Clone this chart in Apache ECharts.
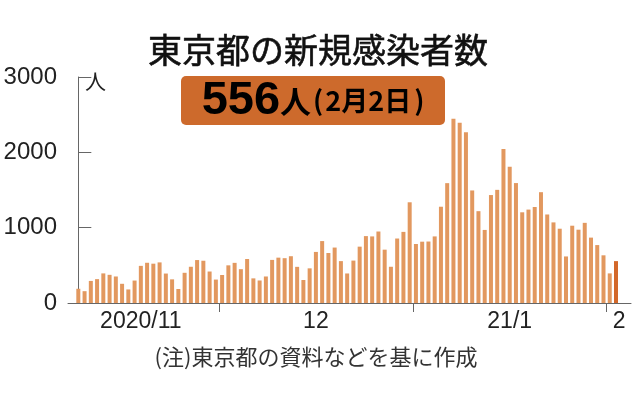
<!DOCTYPE html>
<html>
<head>
<meta charset="utf-8">
<script src="https://cdn.jsdelivr.net/npm/echarts@6/dist/echarts.min.js"></script>
<style>
html,body{margin:0;padding:0;background:#fff;}
#c{width:638px;height:396px;}
</style>
</head>
<body>
<div id="c"></div>
<script>
// Daily new cases in Tokyo, 2020/11/8 - 2021/2/2
var dates = [
 '11/8','11/9','11/10','11/11','11/12','11/13','11/14','11/15','11/16','11/17','11/18','11/19','11/20','11/21','11/22','11/23','11/24','11/25','11/26','11/27','11/28','11/29','11/30',
 '12/1','12/2','12/3','12/4','12/5','12/6','12/7','12/8','12/9','12/10','12/11','12/12','12/13','12/14','12/15','12/16','12/17','12/18','12/19','12/20','12/21','12/22','12/23','12/24','12/25','12/26','12/27','12/28','12/29','12/30','12/31',
 '1/1','1/2','1/3','1/4','1/5','1/6','1/7','1/8','1/9','1/10','1/11','1/12','1/13','1/14','1/15','1/16','1/17','1/18','1/19','1/20','1/21','1/22','1/23','1/24','1/25','1/26','1/27','1/28','1/29','1/30','1/31',
 '2/1','2/2'
];
var cases = [
 189,157,293,317,393,374,352,255,180,298,493,534,522,539,391,314,186,401,481,570,561,418,311,
 372,500,533,449,584,327,299,352,572,602,595,621,480,305,460,678,822,664,736,556,392,563,748,888,884,949,708,481,856,944,1337,
 783,814,816,884,1278,1591,2447,2392,2268,1494,1219,970,1433,1502,2044,1809,1592,1204,1240,1274,1471,1175,1070,986,618,1026,973,1064,868,769,633,
 393,556
];
var yTicks = [0, 1000, 2000, 3000];
var monthTicks = [22.5, 53.5, 84.5];          // boundaries between months (day index)
var monthLabelPos = [10, 38, 69, 86.5];        // centre of each visible month span
var monthLabels = ['2020/11', '12', '21/1', '2'];
var titleText = '東京都の新規感染者数';
var badgeNumber = '556';
var badgeDate = '2月2日';
var unitText = '人';
var noteText = '(注)東京都の資料などを基に作成';

var barColor = '#e2985f';
var lastColor = '#d3682a';
var badgeColor = '#cd6a2c';
var cjk = '"Noto Sans CJK JP", "Noto Sans", sans-serif';
var latin = '"Liberation Sans", Arial, sans-serif';

var barData = cases.map(function (v, i) {
  return {
    value: [i, v],
    itemStyle: { color: i === cases.length - 1 ? lastColor : barColor }
  };
});

var chart = echarts.init(document.getElementById('c'), null, { renderer: 'canvas' });
chart.setOption({
  animation: false,
  backgroundColor: '#fff',
  grid: { left: 68, right: 7, top: 77, bottom: 93, containLabel: false, outerBoundsMode: 'none' },
  xAxis: {
    type: 'value',
    min: -1.65,
    max: 88.4,
    splitLine: { show: false },
    axisLine: { show: true, lineStyle: { color: '#666', width: 1 } },
    axisTick: { show: true, inside: false, length: 9, customValues: monthTicks, lineStyle: { color: '#666', width: 1 } },
    axisLabel: {
      show: true,
      customValues: monthLabelPos,
      margin: 7,
      fontSize: 23,
      fontFamily: latin,
      color: '#222',
      formatter: function (v) {
        var k = monthLabelPos.indexOf(v);
        return k >= 0 ? monthLabels[k] : '';
      }
    }
  },
  yAxis: {
    type: 'value',
    min: yTicks[0],
    max: yTicks[yTicks.length - 1],
    interval: 1000,
    splitLine: { show: false },
    axisLine: { show: true, lineStyle: { color: '#666', width: 1 } },
    axisTick: { show: true, inside: true, length: 13, lineStyle: { color: '#666', width: 1 } },
    axisLabel: {
      margin: 11, fontSize: 24, fontFamily: latin, color: '#222',
      formatter: function (v) { return String(v); }
    }
  },
  series: [{
    type: 'bar',
    data: barData,
    barWidth: 4,
    silent: true
  }],
  graphic: [
    {
      type: 'text',
      x: 318,
      y: 50,
      style: { text: titleText, font: 'normal 34px ' + cjk, fill: '#111', align: 'center', verticalAlign: 'middle', stroke: '#111', lineWidth: 0.6 }
    },
    {
      type: 'rect',
      shape: { x: 181, y: 76, width: 264, height: 49, r: 5 },
      style: { fill: badgeColor }
    },
    {
      type: 'text',
      x: 314,
      y: 101,
      style: {
        text: '{n|' + badgeNumber + '}{u|' + unitText + '}{pl|(}{d|' + badgeDate + '}{pr|)}',
        align: 'center',
        verticalAlign: 'middle',
        rich: {
          n: { fontSize: 47, fontWeight: 'bold', fontFamily: latin, color: '#fff' },
          u: { fontSize: 31, fontWeight: 'bold', fontFamily: cjk, color: '#fff' },
          pl: { fontSize: 27, fontWeight: 'bold', fontFamily: cjk, color: '#fff', padding: [0, 2, 0, 2] },
          pr: { fontSize: 27, fontWeight: 'bold', fontFamily: cjk, color: '#fff', padding: [0, 2, 0, 3] },
          d: { fontSize: 27, fontWeight: 'bold', fontFamily: cjk, color: '#fff' }
        }
      }
    },
    {
      type: 'text',
      x: 85,
      y: 81,
      style: { text: unitText, font: '21px ' + cjk, fill: '#222', verticalAlign: 'middle' }
    },
    {
      type: 'text',
      x: 316,
      y: 357,
      style: { text: noteText, font: '22px ' + cjk, fill: '#333', align: 'center', verticalAlign: 'middle' }
    }
  ]
});
</script>
</body>
</html>
